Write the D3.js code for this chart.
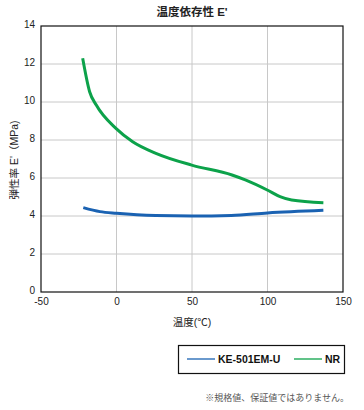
<!DOCTYPE html>
<html><head><meta charset="utf-8">
<script src="https://cdn.jsdelivr.net/npm/d3@7"></script>
<style>body{margin:0;background:#fff;}svg{display:block;font-family:"Liberation Sans","Noto Sans CJK JP",sans-serif;}</style>
</head><body><svg id="c" width="364" height="410"></svg>
<script>
const xTicks = [-50, 0, 50, 100, 150];
const yTicks = [0, 2, 4, 6, 8, 10, 12, 14];
const seriesNames = ["KE-501EM-U", "NR"];
const seriesColors = ["#1a62b2", "#0ca24a"];
const tempKE = [-22, -11, 0, 26, 50, 76, 100, 137];
const eKE = [4.44, 4.23, 4.14, 4.02, 4.0, 4.03, 4.16, 4.3];
const tempNR = [-22.4, -17.8, -13.4, -0.2, 10.7, 26.1, 49.8, 76.5, 85.3, 99.8, 108.3, 116, 137];
const eNR = [12.3, 10.54, 9.84, 8.6, 7.91, 7.3, 6.68, 6.16, 5.9, 5.37, 5.02, 4.84, 4.7];

const svg = d3.select("#c");
const L = 41, R = 343, T = 26, B = 292;
const x = d3.scaleLinear().domain([-50, 150]).range([L, R]);
const y = d3.scaleLinear().domain([0, 14]).range([B, T]);

// grid
svg.append("g").selectAll("line").data(xTicks.slice(1, -1)).join("line")
  .attr("x1", d => x(d)).attr("x2", d => x(d)).attr("y1", T).attr("y2", B)
  .attr("stroke", "#c8c8c8").attr("stroke-width", 1);
svg.append("g").selectAll("line").data(yTicks.slice(1, -1)).join("line")
  .attr("y1", d => y(d)).attr("y2", d => y(d)).attr("x1", L).attr("x2", R)
  .attr("stroke", "#c8c8c8").attr("stroke-width", 1);

// axes
const xa = svg.append("g").attr("transform", `translate(0,${B})`)
  .call(d3.axisBottom(x).tickValues(xTicks).tickFormat(d => String(d)).tickSize(0).tickPadding(6));
const ya = svg.append("g").attr("transform", `translate(${L},0)`)
  .call(d3.axisLeft(y).tickValues(yTicks).tickFormat(d => String(d)).tickSize(0).tickPadding(6));
[xa, ya].forEach(a => {
  a.select(".domain").remove();
  a.selectAll("text").attr("font-size", 10).attr("fill", "#222");
});
ya.selectAll("text").attr("dy", "0.1em");

// frame
svg.append("rect").attr("x", L).attr("y", T).attr("width", R - L).attr("height", B - T)
  .attr("fill", "none").attr("stroke", "#111").attr("stroke-width", 1.2);

// lines
const line = d3.line().x(d => x(d[0])).y(d => y(d[1])).curve(d3.curveMonotoneX);
svg.append("path").datum(d3.zip(tempKE, eKE)).attr("d", line)
  .attr("fill", "none").attr("stroke", seriesColors[0]).attr("stroke-width", 3);
svg.append("path").datum(d3.zip(tempNR, eNR)).attr("d", line)
  .attr("fill", "none").attr("stroke", seriesColors[1]).attr("stroke-width", 3);

// title & labels
svg.append("text").attr("x", 192).attr("y", 16).attr("text-anchor", "middle")
  .attr("font-size", 11.5).attr("font-weight", "bold").attr("fill", "#222").text("温度依存性 E'");
svg.append("text").attr("x", 192).attr("y", 326).attr("text-anchor", "middle")
  .attr("font-size", 10.5).attr("fill", "#222").text("温度(℃)");
svg.append("text").attr("transform", "translate(18,160) rotate(-90)").attr("text-anchor", "middle")
  .attr("font-size", 10.5).attr("fill", "#222").text("弾性率 E'（MPa)");

// legend
svg.append("rect").attr("x", 178.5).attr("y", 345.5).attr("width", 166).attr("height", 28)
  .attr("fill", "none").attr("stroke", "#111").attr("stroke-width", 1.2);
const legX = [[187, 215, 218], [294, 322, 325]];
seriesNames.forEach((n, i) => {
  svg.append("line").attr("x1", legX[i][0]).attr("x2", legX[i][1]).attr("y1", 359).attr("y2", 359)
    .attr("stroke", seriesColors[i]).attr("stroke-width", 1.3);
  svg.append("text").attr("x", legX[i][2]).attr("y", 363).attr("font-size", 10.5)
    .attr("font-weight", "bold").attr("fill", "#111").text(n);
});
svg.append("text").attr("x", 349).attr("y", 401).attr("text-anchor", "end")
  .attr("font-size", 9).attr("fill", "#555").text("※規格値、保証値ではありません。");
</script></body></html>
